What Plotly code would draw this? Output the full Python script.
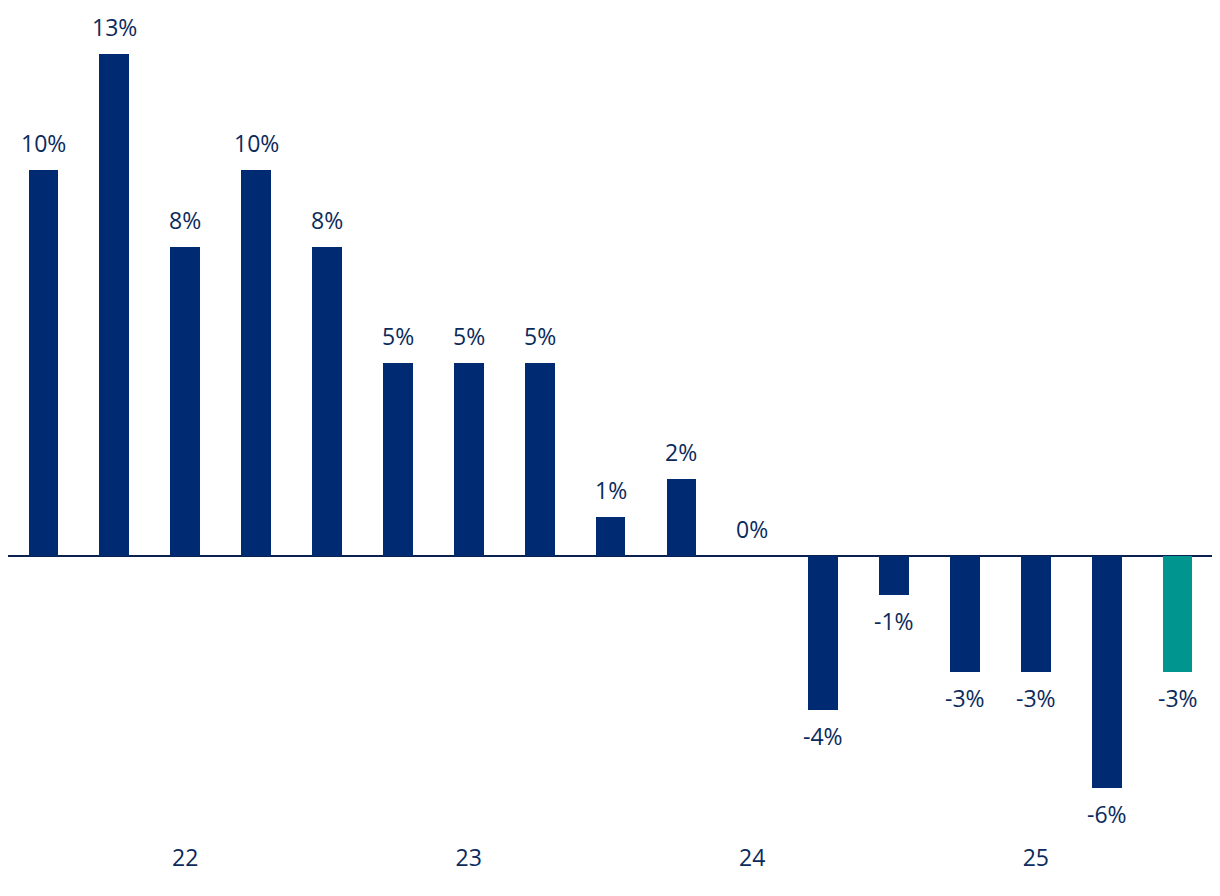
import plotly.graph_objects as go

values = [10, 13, 8, 10, 8, 5, 5, 5, 1, 2, 0, -4, -1, -3, -3, -6, -3]
bar_colors = ["#002B73"] * 16 + ["#00968F"]
year_positions = [2, 6, 10, 14]
year_labels = ["22", "23", "24", "25"]

positions = list(range(len(values)))
text_color = "#0B2B5C"
font = dict(family="Open Sans", size=23, color=text_color)

fig = go.Figure()
fig.add_trace(go.Bar(
    x=positions, y=values, marker=dict(color=bar_colors, line=dict(width=0)),
    width=0.42, hoverinfo="skip",
))

for x, v in zip(positions, values):
    fig.add_annotation(
        x=x, y=v, text=f"{v}%", showarrow=False, font=font,
        yanchor="bottom" if v >= 0 else "top",
        yshift=9 if v >= 0 else -8,
    )

fig.update_layout(
    width=1212, height=888,
    margin=dict(l=0, r=7, t=2, b=54),
    plot_bgcolor="white", paper_bgcolor="white",
    showlegend=False, bargap=0,
    xaxis=dict(
        range=[-0.5, 16.5], tickmode="array", tickvals=year_positions,
        ticktext=year_labels, showgrid=False, zeroline=False, showline=False,
        ticks="", tickfont=font,
    ),
    yaxis=dict(
        range=[-7.41, 14.15], showgrid=False, showticklabels=False,
        zeroline=True, zerolinecolor="#0B2150", zerolinewidth=2, showline=False,
    ),
)

fig.write_html("out.html")
